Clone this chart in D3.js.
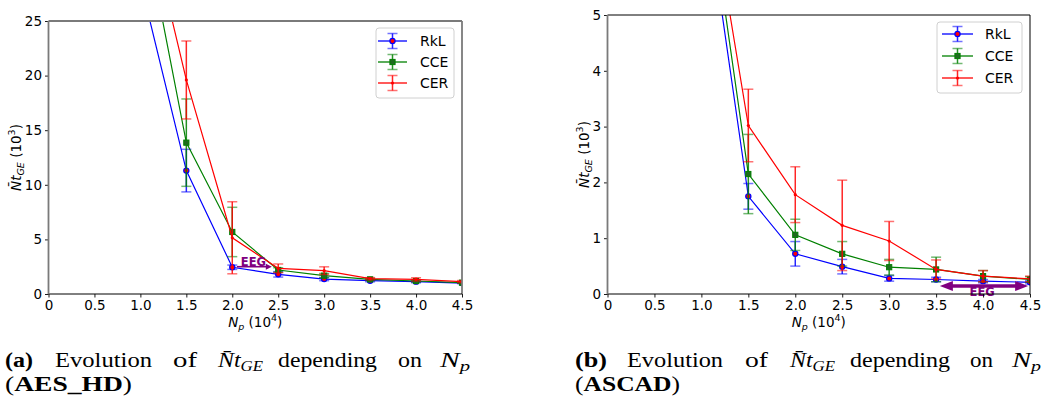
<!DOCTYPE html>
<html>
<head>
<meta charset="utf-8">
<script src="https://cdn.jsdelivr.net/npm/d3@7/dist/d3.min.js"></script>
<style>
  body { margin: 0; background: #fff; }
  svg { display: block; }
</style>
</head>
<body>
<svg id="fig" width="1042" height="396"></svg>
<script>
// N_p values (10^4)
const npValues = [1.0, 1.5, 2.0, 2.5, 3.0, 3.5, 4.0, 4.5];
const npTicks = [0, 0.5, 1.0, 1.5, 2.0, 2.5, 3.0, 3.5, 4.0, 4.5];
const npTickLabels = ["0", "0.5", "1.0", "1.5", "2.0", "2.5", "3.0", "3.5", "4.0", "4.5"];
const seriesNames = ["RkL", "CCE", "CER"];

// AES_HD (10^3)
const aesTicks = [0, 5, 10, 15, 20, 25];
const rklAes = [28.6, 11.3, 2.45, 1.8, 1.37, 1.22, 1.13, 1.0];
const rklAesErr = [0, 1.95, 0.2, 0.25, 0.15, 0.1, 0.1, 0.05];
const cceAes = [35.5, 13.86, 5.68, 2.2, 1.68, 1.34, 1.19, 1.04];
const cceAesErr = [0, 4.0, 2.26, 0.2, 0.2, 0.1, 0.1, 0.05];
const cerAes = [37.3, 19.6, 5.15, 2.35, 2.14, 1.4, 1.34, 1.13];
const cerAesErr = [0, 3.57, 3.3, 0.4, 0.35, 0.1, 0.15, 0.1];
const eegAesArrow = [[2.05, 2.5], [2.43, 2.5]];
const eegAesText = [2.23, 2.6];

// ASCAD (10^3)
const ascadTicks = [0, 1, 2, 3, 4, 5];
const rklAsc = [7.6, 1.75, 0.72, 0.49, 0.28, 0.26, 0.23, 0.21];
const rklAscErr = [0, 0.23, 0.22, 0.13, 0.05, 0.04, 0.03, 0.03];
const cceAsc = [8.05, 2.15, 1.06, 0.72, 0.48, 0.44, 0.32, 0.26];
const cceAscErr = [0, 0.71, 0.28, 0.22, 0.14, 0.22, 0.1, 0.05];
const cerAsc = [8.1, 3.02, 1.78, 1.23, 0.95, 0.44, 0.32, 0.27];
const cerAscErr = [0, 0.65, 0.5, 0.81, 0.35, 0.17, 0.1, 0.05];
const eegAscArrow = [[3.54, 0.143], [4.48, 0.143]];
const eegAscText = [3.99, -0.035];

const colors = { RkL: "#0000ff", CCE: "#008000", CER: "#ff0000" };
const purple = "#800080";
const svg = d3.select("#fig");

function drawMarker(g, name, cx, cy) {
  if (name === "RkL") {
    g.append("circle").attr("cx", cx).attr("cy", cy).attr("r", 2.6)
      .attr("fill", "#ff0000").attr("stroke", "#0000ff").attr("stroke-width", 1.2);
  } else if (name === "CCE") {
    g.append("rect").attr("x", cx - 2.6).attr("y", cy - 2.6).attr("width", 5.2).attr("height", 5.2)
      .attr("fill", "#1f6a1f").attr("stroke", "#008000").attr("stroke-width", 1);
  } else {
    g.append("circle").attr("cx", cx).attr("cy", cy).attr("r", 1.6).attr("fill", "#ff0000");
  }
}

function errBar(g, color, cx, yTop, yBot, cap) {
  g.append("line").attr("x1", cx).attr("x2", cx).attr("y1", yTop).attr("y2", yBot)
    .attr("stroke", color).attr("stroke-width", 1.5).attr("opacity", 0.85);
  [yTop, yBot].forEach(yy => {
    g.append("line").attr("x1", cx - cap).attr("x2", cx + cap).attr("y1", yy).attr("y2", yy)
      .attr("stroke", color).attr("stroke-width", 1.5).attr("opacity", 0.55);
  });
}

function drawPanel(p) {
  const x = d3.scaleLinear().domain([0, 4.5]).range([p.left, p.right]);
  const y = d3.scaleLinear().domain([0, p.yMax]).range([p.bottom, p.top]);

  svg.append("clipPath").attr("id", p.id + "clip").append("rect")
    .attr("x", p.left).attr("y", p.top).attr("width", p.right - p.left).attr("height", p.bottom - p.top);
  const plot = svg.append("g").attr("clip-path", "url(#" + p.id + "clip)");

  p.series.forEach((s, si) => {
    const name = seriesNames[si];
    const c = colors[name];
    const pts = npValues.map((v, i) => ({ x: v, y: s.values[i], e: s.errors[i] }));
    pts.forEach(d => {
      if (d.e > 0) errBar(plot, c, x(d.x), y(d.y + d.e), y(d.y - d.e), 5);
    });
    plot.append("path").datum(pts)
      .attr("d", d3.line().x(d => x(d.x)).y(d => y(d.y)))
      .attr("fill", "none").attr("stroke", c).attr("stroke-width", 1.2);
    pts.forEach(d => drawMarker(plot, name, x(d.x), y(d.y)));
  });

  // annotation
  const a = p.eeg;
  const ax1 = x(a.arrow[0][0]), ax2 = x(a.arrow[1][0]), ay = y(a.arrow[0][1]);
  const ag = svg.append("g");
  if (a.double) {
    ag.append("line").attr("x1", ax1 + 10).attr("x2", ax2 - 10).attr("y1", ay).attr("y2", ay)
      .attr("stroke", purple).attr("stroke-width", 3.5);
    ag.append("path").attr("d", `M${ax1},${ay} L${ax1 + 13},${ay - 5} L${ax1 + 13},${ay + 5} Z`).attr("fill", purple);
    ag.append("path").attr("d", `M${ax2},${ay} L${ax2 - 13},${ay - 5} L${ax2 - 13},${ay + 5} Z`).attr("fill", purple);
  } else {
    ag.append("line").attr("x1", ax1).attr("x2", ax2 - 5).attr("y1", ay).attr("y2", ay)
      .attr("stroke", purple).attr("stroke-width", 1.6);
    ag.append("path").attr("d", `M${ax2},${ay} L${ax2 - 6},${ay - 3} L${ax2 - 6},${ay + 3} Z`).attr("fill", purple);
  }
  ag.append("text").attr("x", x(a.text[0])).attr("y", y(a.text[1]))
    .attr("text-anchor", "middle").attr("font-family", "DejaVu Sans").attr("font-weight", "bold")
    .attr("font-size", 11.5).attr("fill", purple).text("EEG");

  // axes
  const xAxis = d3.axisBottom(x).tickValues(npTicks).tickFormat((d, i) => npTickLabels[i])
    .tickSizeInner(3.5).tickSizeOuter(0).tickPadding(2.5);
  const yAxis = d3.axisLeft(y).tickValues(p.yTicks).tickFormat(d3.format("d"))
    .tickSizeInner(3.5).tickSizeOuter(0).tickPadding(3);
  const gx = svg.append("g").attr("transform", `translate(0,${p.bottom})`).call(xAxis);
  const gy = svg.append("g").attr("transform", `translate(${p.left},0)`).call(yAxis);
  [gx, gy].forEach(ga => {
    ga.select(".domain").remove();
    ga.selectAll("text").attr("font-family", "DejaVu Sans").attr("font-size", 13.5).attr("fill", "#000");
    ga.selectAll("line").attr("stroke", "#000").attr("stroke-width", 0.9);
  });

  // spines
  const sp = p.spines;
  const spine = (x1, y1, x2, y2, st) => svg.append("line").attr("x1", x1).attr("y1", y1).attr("x2", x2).attr("y2", y2)
    .attr("stroke", st[0]).attr("stroke-width", st[1]);
  spine(p.left, p.top, p.right, p.top, sp.top);
  spine(p.right, p.top, p.right, p.bottom, sp.right);
  spine(p.left, p.bottom, p.right, p.bottom, sp.bottom);
  spine(p.left, p.top, p.left, p.bottom, sp.left);

  // axis labels
  const xl = svg.append("text").attr("x", (p.left + p.right) / 2).attr("y", p.bottom + 33)
    .attr("text-anchor", "middle").attr("font-family", "DejaVu Sans").attr("font-size", 13.5);
  xl.append("tspan").attr("font-style", "italic").text("N");
  xl.append("tspan").attr("font-style", "italic").attr("font-size", 9.5).attr("dy", 3).text("p");
  xl.append("tspan").attr("dy", -3).text(" (10");
  xl.append("tspan").attr("font-size", 9.5).attr("dy", -6).text("4");
  xl.append("tspan").attr("dy", 6).text(")");

  const yl = svg.append("text").attr("transform", `translate(${p.yLabelX},${(p.top + p.bottom) / 2}) rotate(-90)`)
    .attr("text-anchor", "middle").attr("font-family", "DejaVu Sans").attr("font-size", 13.5);
  yl.append("tspan").attr("font-style", "italic").text("N\u0304t");
  yl.append("tspan").attr("font-style", "italic").attr("font-size", 9.5).attr("dy", 3).text("GE");
  yl.append("tspan").attr("dy", -3).text(" (10");
  yl.append("tspan").attr("font-size", 9.5).attr("dy", -6).text("3");
  yl.append("tspan").attr("dy", 6).text(")");

  // legend
  const L = p.legend;
  svg.append("rect").attr("x", L.x).attr("y", L.y).attr("width", L.w).attr("height", L.h)
    .attr("rx", 3).attr("fill", "#fff").attr("fill-opacity", 0.8).attr("stroke", "#d0d0d0").attr("stroke-width", 1);
  seriesNames.forEach((name, i) => {
    const yy = L.rows[i];
    const c = colors[name];
    const lg = svg.append("g");
    const cx = (L.lx1 + L.lx2) / 2;
    errBar(lg, c, cx, yy - 7.5, yy + 7.5, 5);
    lg.append("line").attr("x1", L.lx1).attr("x2", L.lx2).attr("y1", yy).attr("y2", yy)
      .attr("stroke", c).attr("stroke-width", 1.3);
    drawMarker(lg, name, cx, yy);
    lg.append("text").attr("x", L.tx).attr("y", yy + 5).attr("font-family", "DejaVu Sans")
      .attr("font-size", 14).text(name);
  });

  // caption
  const cap = p.caption;
  const serif = "Liberation Serif";
  cap.words.forEach(w => {
    const t = svg.append("text").attr("x", w.x0).attr("y", cap.y1).attr("font-family", serif)
      .attr("font-size", 20).attr("textLength", w.x1 - w.x0).attr("lengthAdjust", "spacingAndGlyphs");
    if (w.kind === "bold") t.attr("font-weight", "bold").text(w.t);
    else if (w.kind === "nt") {
      t.append("tspan").attr("font-style", "italic").text("N\u0304t");
      t.append("tspan").attr("font-style", "italic").attr("font-size", 14).attr("dy", 4).text("GE");
    } else if (w.kind === "np") {
      t.append("tspan").attr("font-style", "italic").text("N");
      t.append("tspan").attr("font-style", "italic").attr("font-size", 14).attr("dy", 4).text("p");
    } else t.text(w.t);
  });
  const t2 = svg.append("text").attr("x", cap.l2x0).attr("y", cap.y2).attr("font-family", serif)
    .attr("font-size", 20).attr("textLength", cap.l2x1 - cap.l2x0).attr("lengthAdjust", "spacingAndGlyphs");
  t2.append("tspan").text("(");
  t2.append("tspan").attr("font-weight", "bold").text(cap.name);
  t2.append("tspan").text(")");
}

function captionWords(tag, xs) {
  const words = [
    { t: tag, kind: "bold" }, { t: "Evolution" }, { t: "of" }, { kind: "nt" },
    { t: "depending" }, { t: "on" }, { kind: "np" }
  ];
  return words.map((w, i) => Object.assign({}, w, { x0: xs[i][0], x1: xs[i][1] }));
}

const gray = ["#7a7a7a", 1.8], black = ["#000", 1];

drawPanel({
  id: "aes", left: 48.5, right: 462, top: 21, bottom: 294, yMax: 25, yTicks: aesTicks,
  series: [
    { values: rklAes, errors: rklAesErr },
    { values: cceAes, errors: cceAesErr },
    { values: cerAes, errors: cerAesErr }
  ],
  eeg: { arrow: eegAesArrow, text: eegAesText, double: false },
  spines: { top: gray, right: gray, bottom: black, left: gray },
  yLabelX: 21,
  legend: { x: 376, y: 28, w: 78, h: 70, rows: [41, 62, 83], lx1: 378, lx2: 407, tx: 420 },
  caption: {
    y1: 367, y2: 391, name: "AES_HD", l2x0: 5, l2x1: 132,
    words: captionWords("(a)", [[5, 33], [55, 152], [173, 197], [218, 263], [278, 377], [398, 422], [440, 470]])
  }
});

drawPanel({
  id: "asc", left: 607.5, right: 1030, top: 15, bottom: 294, yMax: 5, yTicks: ascadTicks,
  series: [
    { values: rklAsc, errors: rklAscErr },
    { values: cceAsc, errors: cceAscErr },
    { values: cerAsc, errors: cerAscErr }
  ],
  eeg: { arrow: eegAscArrow, text: eegAscText, double: true },
  spines: { top: black, right: black, bottom: black, left: gray },
  yLabelX: 589,
  legend: { x: 937, y: 22, w: 85, h: 71, rows: [34, 56, 78], lx1: 942, lx2: 973, tx: 985 },
  caption: {
    y1: 367, y2: 391, name: "ASCAD", l2x0: 575, l2x1: 680,
    words: captionWords("(b)", [[575, 607], [627, 723], [745, 768], [790, 835], [850, 950], [970, 993], [1012, 1041]])
  }
});
</script>
</body>
</html>
